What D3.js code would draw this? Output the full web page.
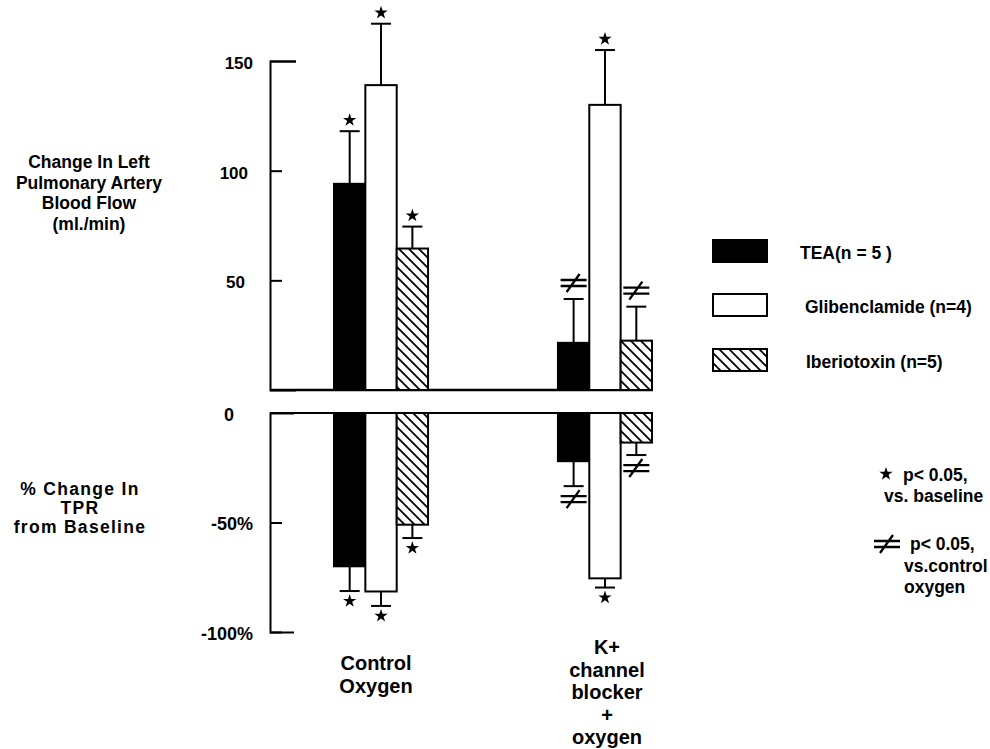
<!DOCTYPE html>
<html>
<head>
<meta charset="utf-8">
<script src="https://cdn.jsdelivr.net/npm/d3@7"></script>
<style>
  body { margin: 0; background: #fff; }
  svg text { font-family: "Liberation Sans", Arial, Helvetica, sans-serif; font-weight: bold; fill: #000; }
</style>
</head>
<body>
<div id="chart"></div>
<script>
// data
var groups = ["Control Oxygen", "K+ channel blocker + oxygen"];
var series = ["TEA", "Glibenclamide", "Iberiotoxin"];
var legendLabels = ["TEA(n = 5 )", "Glibenclamide (n=4)", "Iberiotoxin (n=5)"];
var groupLabels = [["Control", "Oxygen"], ["K+", "channel", "blocker", "+", "oxygen"]];

var flowMean = [[94, 139, 64.5], [21.5, 130, 22.5]];
var flowSem  = [[24, 28, 10], [20, 25, 15.5]];
var flowSig  = [["star", "star", "star"], ["neq", "star", "neq"]];

var tprMean = [[-70, -81.5, -51], [-22, -75.5, -13.5]];
var tprSem  = [[11.3, 6.6, 6.1], [11.4, 4.2, 5.7]];
var tprSig  = [["star", "star", "star"], ["neq", "star", "neq"]];

var flowTicks = [50, 100, 150];
var tprTicks = [0, -50, -100];
var tprTickLabels = ["0", "-50%", "-100%"];

var width = 990, height = 749;
var svg = d3.select("#chart").append("svg")
    .attr("width", width)
    .attr("height", height);

var defs = svg.append("defs");
var pat = defs.append("pattern")
    .attr("id", "hatch")
    .attr("patternUnits", "userSpaceOnUse")
    .attr("width", 10).attr("height", 10);
pat.append("rect").attr("width", 10).attr("height", 10).attr("fill", "#fff");
pat.append("path")
    .attr("d", "M-2,-2 L12,12 M-2,8 L2,12 M8,-2 L12,2")
    .attr("stroke", "#000").attr("stroke-width", 1.8);

var fills = ["#000", "#fff", "url(#hatch)"];

var axisX = 270;
var x0 = d3.scaleBand().domain(groups).range([334, 652]).paddingInner(0.58);
var x1 = d3.scaleBand().domain(series).range([0, x0.bandwidth()]);

var yU = d3.scaleLinear().domain([0, 150]).range([390, 61]);
var yL = d3.scaleLinear().domain([-100, 0]).range([632, 413]);

// ---- axes
var axU = svg.append("g").attr("transform", "translate(" + axisX + ",0)")
    .call(d3.axisLeft(yU).tickValues(flowTicks).tickSize(-12).tickSizeOuter(-26).tickPadding(20));
axU.selectAll(".tick line").attr("stroke-width", 2).filter(function(d) { return d == 150; }).attr("x2", 26);
axU.select(".domain").attr("stroke-width", 2);
axU.selectAll(".tick text").style("font-size", "17px").attr("dy", "0.45em");
axU.selectAll(".tick text").attr("x", function(d) { return d == 150 ? -17 : (d == 100 ? -22 : -25); });

var axL = svg.append("g").attr("transform", "translate(" + axisX + ",0)")
    .call(d3.axisLeft(yL).tickValues(tprTicks).tickSize(-12).tickSizeOuter(-24).tickPadding(17)
      .tickFormat(function(d, i) { return tprTickLabels[i]; }));
axL.selectAll(".tick line").attr("stroke-width", 2).filter(function(d) { return d == 0; }).remove();
axL.select(".domain").attr("stroke-width", 2);
axL.selectAll(".tick text").style("font-size", "18px").attr("dy", "0.4em")
    .attr("x", function(d) { return d == 0 ? -36 : -17; });

// baselines
svg.append("line").attr("x1", axisX).attr("x2", 653).attr("y1", yU(0)).attr("y2", yU(0))
    .attr("stroke", "#000").attr("stroke-width", 2.5);
svg.append("line").attr("x1", axisX).attr("x2", 652).attr("y1", yL(0)).attr("y2", yL(0))
    .attr("stroke", "#000").attr("stroke-width", 2);

// ---- markers
function drawMarker(g, type, cx, cy) {
  if (type == "star") {
    g.append("path")
      .attr("d", d3.symbol(d3.symbolStar).size(55)())
      .attr("transform", "translate(" + cx + "," + cy + ")")
      .attr("fill", "#000");
  } else {
    g.append("path")
      .attr("d", "M" + (cx - 13) + "," + (cy - 3) + "h26M" + (cx - 13) + "," + (cy + 3) + "h26" +
                 "M" + (cx + 6) + "," + (cy - 9) + "L" + (cx - 7) + "," + (cy + 9))
      .attr("stroke", "#000").attr("stroke-width", 2.3).attr("fill", "none");
  }
}

// ---- bars
var plot = svg.append("g");
groups.forEach(function(g, gi) {
  series.forEach(function(s, si) {
    var bx = x0(g) + x1(s), bw = x1.bandwidth(), cx = bx + bw / 2;

    // upper panel: blood flow
    var m = flowMean[gi][si], e = m + flowSem[gi][si];
    plot.append("line").attr("x1", cx).attr("x2", cx).attr("y1", yU(m)).attr("y2", yU(e))
        .attr("stroke", "#000").attr("stroke-width", 2);
    plot.append("line").attr("x1", cx - 10).attr("x2", cx + 10).attr("y1", yU(e)).attr("y2", yU(e))
        .attr("stroke", "#000").attr("stroke-width", 2);
    plot.append("rect").attr("x", bx).attr("width", bw)
        .attr("y", yU(m)).attr("height", yU(0) - yU(m))
        .attr("fill", fills[si]).attr("stroke", "#000").attr("stroke-width", 2);
    drawMarker(plot, flowSig[gi][si], cx, yU(e) - (flowSig[gi][si] == "star" ? 11 : 16));

    // lower panel: TPR
    var t = tprMean[gi][si], te = t - tprSem[gi][si];
    plot.append("line").attr("x1", cx).attr("x2", cx).attr("y1", yL(t)).attr("y2", yL(te))
        .attr("stroke", "#000").attr("stroke-width", 2);
    plot.append("line").attr("x1", cx - 10).attr("x2", cx + 10).attr("y1", yL(te)).attr("y2", yL(te))
        .attr("stroke", "#000").attr("stroke-width", 2);
    plot.append("rect").attr("x", bx).attr("width", bw)
        .attr("y", yL(0)).attr("height", yL(t) - yL(0))
        .attr("fill", fills[si]).attr("stroke", "#000").attr("stroke-width", 2);
    drawMarker(plot, tprSig[gi][si], cx, yL(te) + (tprSig[gi][si] == "star" ? 10 : 13));
  });
});

// ---- category labels
var catDx = [-5, 2];
groups.forEach(function(g, gi) {
  var t = svg.append("text").attr("text-anchor", "middle").style("font-size", "20px");
  var firstY = gi == 0 ? 663 : 647;
  groupLabels[gi].forEach(function(line, li) {
    t.append("tspan").attr("x", x0(g) + x0.bandwidth() / 2 + catDx[gi])
      .attr("y", firstY + li * 22.5).attr("dy", "0.35em").text(line);
  });
});

// ---- y titles
var titleU = ["Change In Left", "Pulmonary Artery", "Blood Flow", "(ml./min)"];
var tU = svg.append("text").attr("text-anchor", "middle").style("font-size", "17.5px");
titleU.forEach(function(line, i) {
  tU.append("tspan").attr("x", 89).attr("y", 162 + i * 20.5).attr("dy", "0.35em").text(line);
});
var titleL = ["% Change In", "TPR", "from Baseline"];
var titleLY = [489, 508, 527];
var tL = svg.append("text").attr("text-anchor", "middle").style("font-size", "17.5px")
    .style("letter-spacing", "1.3px");
titleL.forEach(function(line, i) {
  tL.append("tspan").attr("x", 80).attr("y", titleLY[i]).attr("dy", "0.35em").text(line);
});

// ---- legend
var legY = [251, 305, 360];
var legTx = [800, 805, 806];
series.forEach(function(s, i) {
  svg.append("rect").attr("x", 713).attr("y", legY[i] - 11).attr("width", 54).attr("height", 22)
    .attr("fill", fills[i]).attr("stroke", "#000").attr("stroke-width", 2);
  svg.append("text").attr("x", legTx[i]).attr("y", legY[i] + 2).attr("dy", "0.35em")
    .style("font-size", "17.5px").text(legendLabels[i]);
});

// ---- significance notes
drawMarker(svg, "star", 886, 474);
svg.append("text").attr("x", 903).attr("y", 475).attr("dy", "0.35em").style("font-size", "17.5px").text("p< 0.05,");
svg.append("text").attr("x", 884).attr("y", 496).attr("dy", "0.35em").style("font-size", "17.5px").text("vs. baseline");
drawMarker(svg, "neq", 887, 544);
svg.append("text").attr("x", 910).attr("y", 544).attr("dy", "0.35em").style("font-size", "17.5px").text("p< 0.05,");
svg.append("text").attr("x", 904).attr("y", 566).attr("dy", "0.35em").style("font-size", "17.5px").text("vs.control");
svg.append("text").attr("x", 904).attr("y", 587).attr("dy", "0.35em").style("font-size", "17.5px").text("oxygen");
</script>
</body>
</html>
